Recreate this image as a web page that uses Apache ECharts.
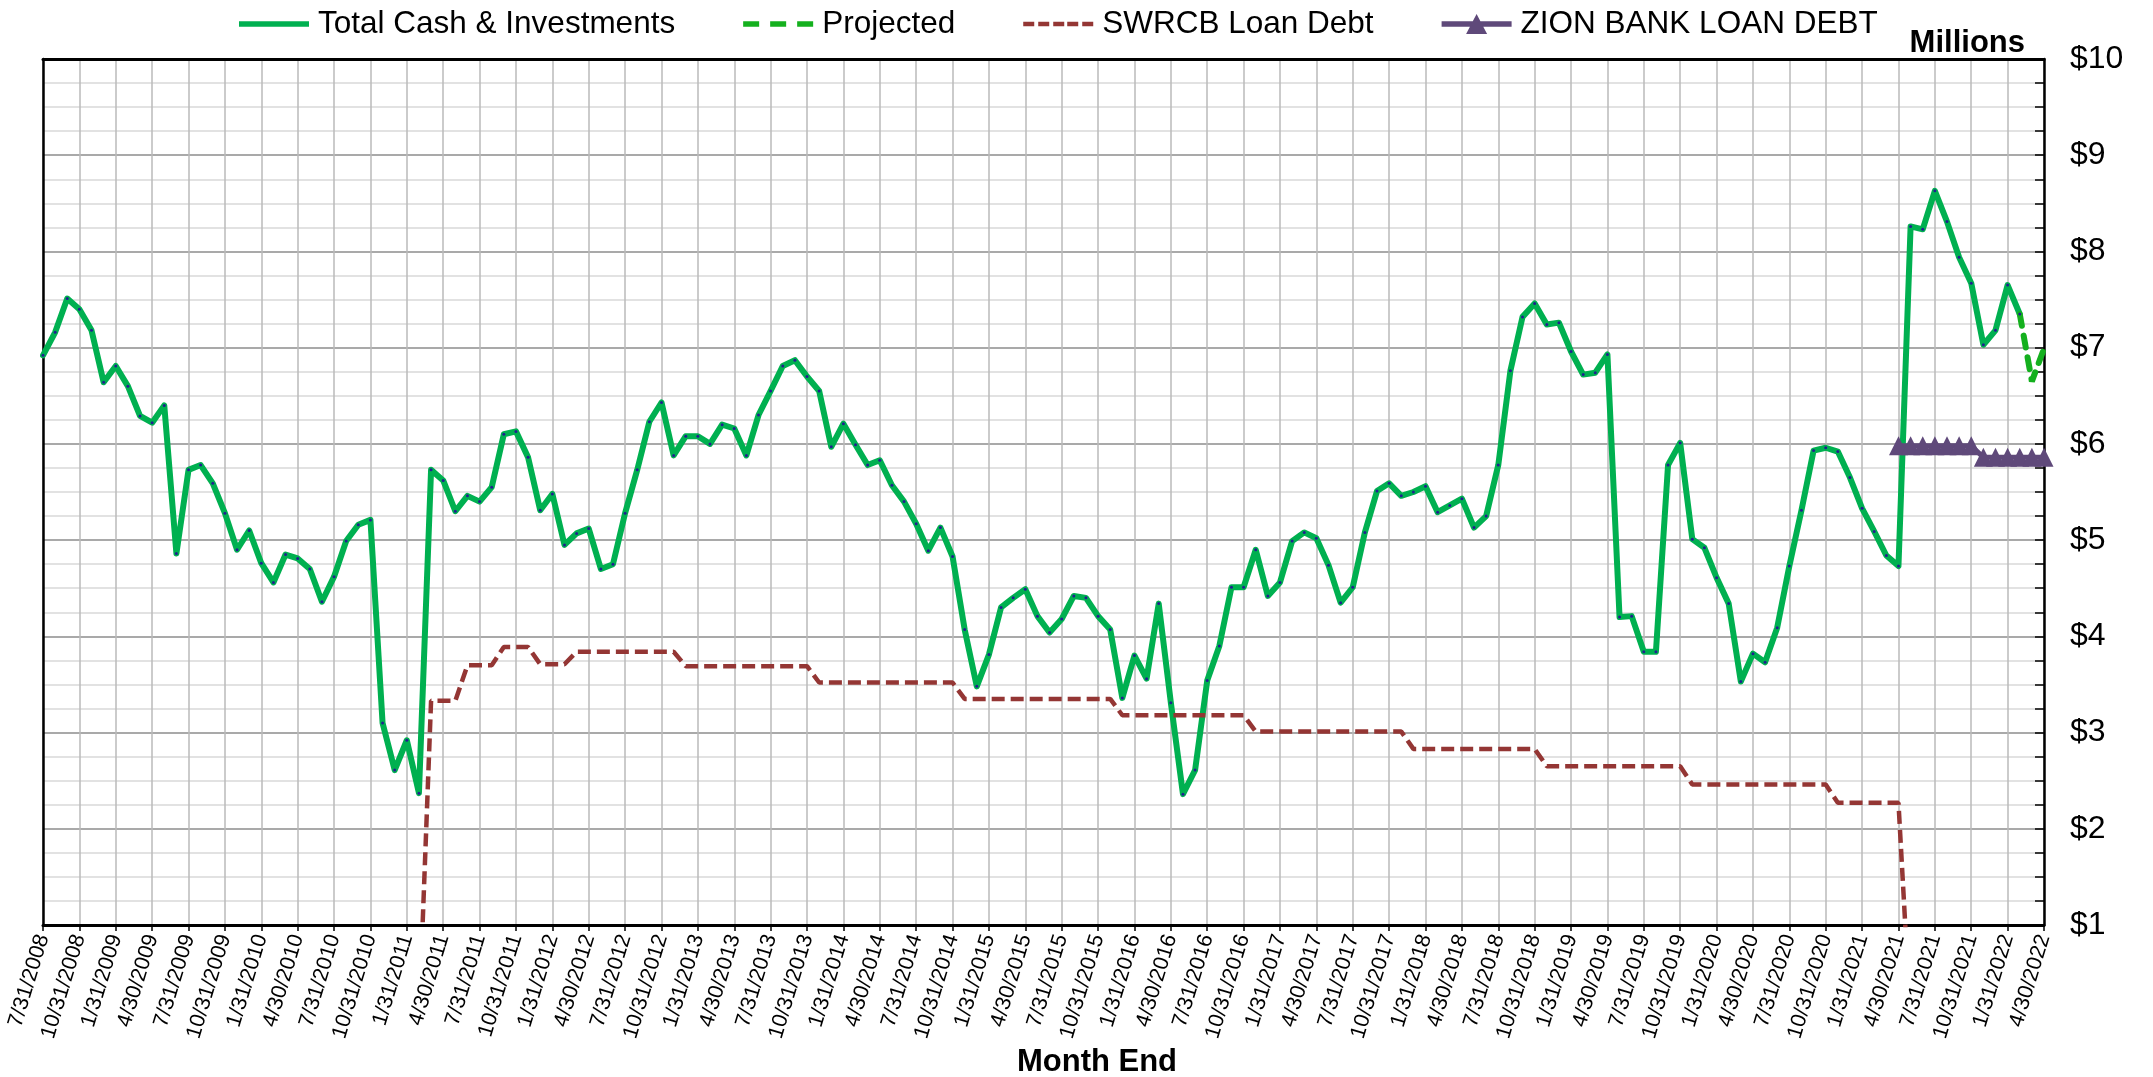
<!DOCTYPE html>
<html>
<head>
<meta charset="utf-8">
<script src="https://cdn.jsdelivr.net/npm/echarts@6/dist/echarts.min.js"></script>
<style>
  html, body { margin: 0; padding: 0; background: #fff; }
  #chart { width: 2153px; height: 1077px; }
</style>
</head>
<body>
<div id="chart"></div>
<script>
const categories = [
  '7/31/2008','8/31/2008','9/30/2008','10/31/2008','11/30/2008','12/31/2008',
  '1/31/2009','2/28/2009','3/31/2009','4/30/2009','5/31/2009','6/30/2009','7/31/2009','8/31/2009','9/30/2009','10/31/2009','11/30/2009','12/31/2009',
  '1/31/2010','2/28/2010','3/31/2010','4/30/2010','5/31/2010','6/30/2010','7/31/2010','8/31/2010','9/30/2010','10/31/2010','11/30/2010','12/31/2010',
  '1/31/2011','2/28/2011','3/31/2011','4/30/2011','5/31/2011','6/30/2011','7/31/2011','8/31/2011','9/30/2011','10/31/2011','11/30/2011','12/31/2011',
  '1/31/2012','2/29/2012','3/31/2012','4/30/2012','5/31/2012','6/30/2012','7/31/2012','8/31/2012','9/30/2012','10/31/2012','11/30/2012','12/31/2012',
  '1/31/2013','2/28/2013','3/31/2013','4/30/2013','5/31/2013','6/30/2013','7/31/2013','8/31/2013','9/30/2013','10/31/2013','11/30/2013','12/31/2013',
  '1/31/2014','2/28/2014','3/31/2014','4/30/2014','5/31/2014','6/30/2014','7/31/2014','8/31/2014','9/30/2014','10/31/2014','11/30/2014','12/31/2014',
  '1/31/2015','2/28/2015','3/31/2015','4/30/2015','5/31/2015','6/30/2015','7/31/2015','8/31/2015','9/30/2015','10/31/2015','11/30/2015','12/31/2015',
  '1/31/2016','2/29/2016','3/31/2016','4/30/2016','5/31/2016','6/30/2016','7/31/2016','8/31/2016','9/30/2016','10/31/2016','11/30/2016','12/31/2016',
  '1/31/2017','2/28/2017','3/31/2017','4/30/2017','5/31/2017','6/30/2017','7/31/2017','8/31/2017','9/30/2017','10/31/2017','11/30/2017','12/31/2017',
  '1/31/2018','2/28/2018','3/31/2018','4/30/2018','5/31/2018','6/30/2018','7/31/2018','8/31/2018','9/30/2018','10/31/2018','11/30/2018','12/31/2018',
  '1/31/2019','2/28/2019','3/31/2019','4/30/2019','5/31/2019','6/30/2019','7/31/2019','8/31/2019','9/30/2019','10/31/2019','11/30/2019','12/31/2019',
  '1/31/2020','2/29/2020','3/31/2020','4/30/2020','5/31/2020','6/30/2020','7/31/2020','8/31/2020','9/30/2020','10/31/2020','11/30/2020','12/31/2020',
  '1/31/2021','2/28/2021','3/31/2021','4/30/2021','5/31/2021','6/30/2021','7/31/2021','8/31/2021','9/30/2021','10/31/2021','11/30/2021','12/31/2021',
  '1/31/2022','2/28/2022','3/31/2022','4/30/2022'
];

// Total Cash & Investments, $ millions, 7/31/2008 .. 2/28/2022
const totalCash = [
  6.92,7.16,7.51,7.40,7.18,6.64,6.81,6.60,6.29,6.22,
  6.40,4.86,5.73,5.78,5.59,5.28,4.90,5.10,4.76,4.56,
  4.85,4.81,4.70,4.36,4.62,4.99,5.16,5.21,3.10,2.61,
  2.92,2.37,5.73,5.62,5.30,5.46,5.40,5.55,6.10,6.13,
  5.86,5.31,5.48,4.95,5.07,5.12,4.70,4.75,5.28,5.73,
  6.23,6.43,5.88,6.08,6.08,6.00,6.20,6.16,5.88,6.30,
  6.55,6.81,6.87,6.70,6.55,5.97,6.21,5.99,5.78,5.83,
  5.57,5.40,5.17,4.89,5.13,4.83,4.07,3.48,3.81,4.30,
  4.40,4.49,4.21,4.04,4.18,4.42,4.40,4.21,4.07,3.36,
  3.80,3.56,4.34,3.31,2.36,2.61,3.54,3.90,4.51,4.51,
  4.90,4.42,4.56,4.99,5.08,5.02,4.74,4.35,4.51,5.08,
  5.51,5.59,5.46,5.50,5.56,5.29,5.36,5.43,5.13,5.25,
  5.78,6.76,7.32,7.46,7.24,7.26,6.96,6.72,6.74,6.93,
  4.20,4.21,3.84,3.84,5.78,6.01,5.01,4.92,4.61,4.34,
  3.53,3.82,3.73,4.09,4.73,5.31,5.93,5.96,5.92,5.65,
  5.33,5.09,4.84,4.73,8.26,8.23,8.63,8.31,7.94,7.67,
  7.03,7.18,7.65,7.35
];

const projectedDates  = ['2/28/2022','3/31/2022','4/30/2022'];
const projectedValues = [7.35, 6.65, 6.99];

// SWRCB Loan Debt, $ millions (0 = no balance, below the axis floor)
const swrcbDebt = [
  0,0,0,0,0,0,0,0,0,0,0,0,0,0,0,0,0,0,0,0,0,0,0,0,0,0,0,0,0,0,0,0,
  3.33,3.33,3.33,
  3.70,3.70,3.70,
  3.89,3.89,3.89,
  3.71,3.71,3.71,
  3.84,3.84,3.84,3.84,3.84,3.84,3.84,3.84,3.84,
  3.69,3.69,3.69,3.69,3.69,3.69,3.69,3.69,3.69,3.69,3.69,
  3.52,3.52,3.52,3.52,3.52,3.52,3.52,3.52,3.52,3.52,3.52,3.52,
  3.35,3.35,3.35,3.35,3.35,3.35,3.35,3.35,3.35,3.35,3.35,3.35,3.35,
  3.18,3.18,3.18,3.18,3.18,3.18,3.18,3.18,3.18,3.18,3.18,
  3.01,3.01,3.01,3.01,3.01,3.01,3.01,3.01,3.01,3.01,3.01,3.01,3.01,
  2.83,2.83,2.83,2.83,2.83,2.83,2.83,2.83,2.83,2.83,2.83,
  2.65,2.65,2.65,2.65,2.65,2.65,2.65,2.65,2.65,2.65,2.65,2.65,
  2.46,2.46,2.46,2.46,2.46,2.46,2.46,2.46,2.46,2.46,2.46,2.46,
  2.27,2.27,2.27,2.27,2.27,2.27,
  0,0,0,0,0,0,0,0,0,0,0,0
];

const zionDates = ['4/30/2021','5/31/2021','6/30/2021','7/31/2021','8/31/2021','9/30/2021','10/31/2021',
                   '11/30/2021','12/31/2021','1/31/2022','2/28/2022','3/31/2022','4/30/2022'];
const zionValues = [5.98,5.98,5.98,5.98,5.98,5.98,5.98,5.86,5.86,5.86,5.86,5.86,5.86];

const yTickFormat = '${value}';

const FONT = '"Liberation Sans", Arial, Helvetica, sans-serif';
const BOX = 'M0,0 L0.01,0 L0,0.01 Z M70,20 L69.99,20 L70,19.99 Z ';
const iconTotal = 'path://' + BOX + 'M0,7.3 L70,7.3 L70,12.7 L0,12.7 Z';
const iconProj = 'path://' + BOX + 'M0,7.3 L16,7.3 L16,12.7 L0,12.7 Z M27,7.3 L43,7.3 L43,12.7 L27,12.7 Z M54,7.3 L70,7.3 L70,12.7 L54,12.7 Z';
const iconSwrcb = 'path://' + BOX + 'M0,7.8 L11,7.8 L11,12.2 L0,12.2 Z M15,7.8 L26,7.8 L26,12.2 L15,12.2 Z M30,7.8 L41,7.8 L41,12.2 L30,12.2 Z M44,7.8 L55,7.8 L55,12.2 L44,12.2 Z M59,7.8 L70,7.8 L70,12.2 L59,12.2 Z';
const iconZion = 'path://' + BOX + 'M0,7.3 L70,7.3 L70,12.7 L0,12.7 Z M35,0 L45.5,20 L24.5,20 Z';

const chart = echarts.init(document.getElementById('chart'), null, { renderer: 'canvas' });

const option = {
  animation: false,
  backgroundColor: '#ffffff',
  textStyle: { fontFamily: FONT },
  grid: { left: 43, right: 109, top: 59, bottom: 152, containLabel: false },
  legend: {
    left: 234, top: 3,
    itemWidth: 70, itemHeight: 20, itemGap: 68,
    itemStyle: { borderWidth: 0 },
    textStyle: { fontSize: 31.5, color: '#000', fontFamily: FONT, padding: [0, 0, 0, 4] },
    data: [
      { name: 'Total Cash & Investments', icon: iconTotal, itemStyle: { color: '#00B050' } },
      { name: 'Projected', icon: iconProj, itemStyle: { color: '#14B01E' } },
      { name: 'SWRCB Loan Debt', icon: iconSwrcb, itemStyle: { color: '#943634' } },
      { name: 'ZION BANK LOAN DEBT', icon: iconZion, itemStyle: { color: '#5F497A' } }
    ]
  },
  xAxis: [
    {
      type: 'category', data: categories, boundaryGap: false,
      axisLine: { show: true, lineStyle: { color: '#000', width: 3 } },
      axisTick: { show: true, interval: 2, inside: false, length: 6, lineStyle: { color: '#000', width: 1.5 } },
      axisLabel: { interval: 2, rotate: 73, fontSize: 21.5, color: '#000', margin: 10, fontFamily: FONT },
      splitLine: { show: true, interval: 2, lineStyle: { color: '#BABABA', width: 1.5 } }
    },
    {
      type: 'category', data: categories, boundaryGap: false, position: 'top',
      axisLine: { show: true, lineStyle: { color: '#000', width: 3 } },
      axisTick: { show: false }, axisLabel: { show: false }, splitLine: { show: false }
    }
  ],
  yAxis: [
    {
      type: 'value', position: 'right', min: 1, max: 10, interval: 1,
      axisLine: { show: true, lineStyle: { color: '#000', width: 2.5 } },
      axisTick: { show: true, inside: true, length: 9, lineStyle: { color: '#000', width: 1.5 } },
      minorTick: { show: true, splitNumber: 4, length: 9, lineStyle: { color: '#000', width: 1.5 } },
      axisLabel: { formatter: yTickFormat, fontSize: 32, color: '#000', margin: 26, fontFamily: FONT },
      splitLine: { show: true, lineStyle: { color: '#8C8C8C', width: 1.5 } },
      minorSplitLine: { show: true, lineStyle: { color: '#D9D9D9', width: 1.5 } }
    },
    {
      type: 'value', position: 'left', min: 1, max: 10, interval: 1,
      axisLine: { show: true, lineStyle: { color: '#000', width: 2.5 } },
      axisTick: { show: false }, axisLabel: { show: false }, splitLine: { show: false }
    }
  ],
  graphic: [
    { type: 'text', x: 2025, y: 43, z: 100,
      style: { text: 'Millions', fill: '#000', font: 'bold 31px ' + FONT, textAlign: 'right', textVerticalAlign: 'middle' } },
    { type: 'text', x: 1097, y: 1062, z: 100,
      style: { text: 'Month End', fill: '#000', font: 'bold 31px ' + FONT, textAlign: 'center', textVerticalAlign: 'middle' } }
  ],
  series: [
    {
      name: 'Total Cash & Investments', type: 'line', xAxisIndex: 0, yAxisIndex: 0,
      data: totalCash,
      symbol: 'circle', symbolSize: 3, showSymbol: true, showAllSymbol: true,
      lineStyle: { color: '#00B050', width: 6, join: 'round', cap: 'round' },
      itemStyle: { color: '#20208F', borderWidth: 0 },
      z: 3
    },
    {
      name: 'Projected', type: 'line', xAxisIndex: 0, yAxisIndex: 0,
      data: projectedDates.map((d, i) => [d, projectedValues[i]]),
      symbol: 'none',
      lineStyle: { color: '#14B01E', width: 6, type: [12, 10], cap: 'round' },
      itemStyle: { color: '#14B01E' },
      z: 3
    },
    {
      name: 'SWRCB Loan Debt', type: 'line', xAxisIndex: 0, yAxisIndex: 0,
      data: swrcbDebt,
      symbol: 'none', clip: true,
      lineStyle: { color: '#943634', width: 4.5, type: [13, 6] },
      itemStyle: { color: '#943634' },
      z: 4
    },
    {
      name: 'ZION BANK LOAN DEBT', type: 'line', xAxisIndex: 0, yAxisIndex: 0,
      data: zionDates.map((d, i) => [d, zionValues[i]]),
      symbol: 'triangle', symbolSize: 19, showSymbol: true, showAllSymbol: true,
      lineStyle: { color: '#5F497A', width: 5 },
      itemStyle: { color: '#5F497A', borderWidth: 0 },
      z: 5
    }
  ]
};

chart.setOption(option);
</script>
</body>
</html>
